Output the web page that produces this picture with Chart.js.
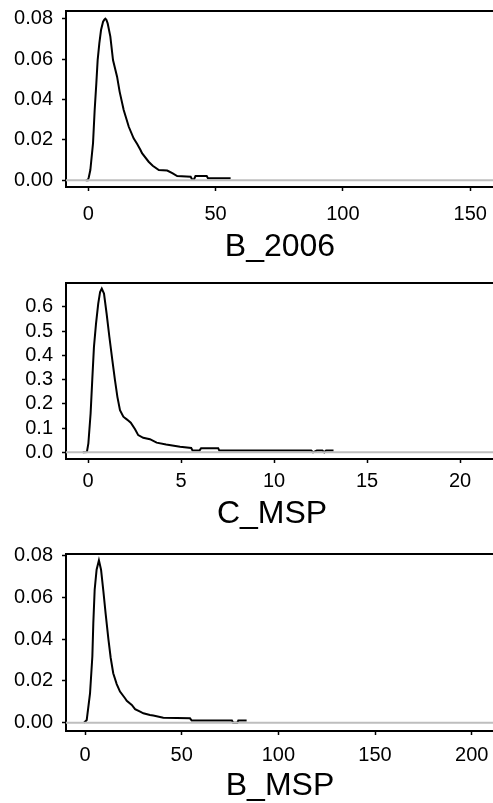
<!DOCTYPE html>
<html><head><meta charset="utf-8">
<script src="https://cdn.jsdelivr.net/npm/chart.js@4.4.1/dist/chart.umd.min.js"></script>
<style>
html,body{margin:0;padding:0;background:#fff;overflow:hidden;width:493px;height:803px;position:relative;}
canvas{position:absolute;left:0;}
</style></head><body>
<canvas id="c1" width="560" height="268" style="top:0px"></canvas>
<canvas id="c2" width="544" height="268" style="top:268px"></canvas>
<canvas id="c3" width="560" height="270" style="top:536px"></canvas>
<script>
// ---- Panel 1: B_2006 ----
const b2006Title = 'B_2006';
const b2006X = [-1.0,-0.2,0.2,0.8,1.85,2.5,3.15,3.67,4.33,5.0,5.8,6.3,6.7,7.1,7.6,8.66,9.7,11.3,12.3,13.9,15.9,17.8,19.2,20.5,21.1,23.7,25.3,27.7,31.0,33.0,34.9,40.2,40.8,41.5,42.1,46.5,47.0,55.9];
const b2006Y = [0,0,0.0015,0.0051,0.0183,0.0348,0.048,0.0595,0.0678,0.0744,0.0785,0.0795,0.080,0.0795,0.0777,0.0711,0.0595,0.0513,0.0439,0.0348,0.0265,0.0208,0.018,0.015,0.0134,0.0092,0.0072,0.0051,0.0048,0.0035,0.0021,0.0018,0.0004,0.0004,0.0021,0.0021,0.001,0.001];
const b2006XTicks = [0,50,100,150];
const b2006XLabels = ['0','50','100','150'];
const b2006YTicks = [0,0.02,0.04,0.06,0.08];
const b2006YLabels = ['0.00','0.02','0.04','0.06','0.08'];

// ---- Panel 2: C_MSP ----
const cmspTitle = 'C_MSP';
const cmspX = [-0.28,-0.06,0.02,0.14,0.23,0.32,0.43,0.55,0.65,0.74,0.86,1.0,1.15,1.31,1.45,1.58,1.72,1.9,2.1,2.3,2.53,2.7,2.97,3.33,3.69,4.2,4.95,5.55,5.62,6.0,6.08,7.0,7.06,12.0,12.1,12.3,12.6,12.7,12.8,13.2];
const cmspY = [0,0.001,0.037,0.16,0.30,0.435,0.53,0.614,0.662,0.676,0.655,0.573,0.476,0.38,0.298,0.229,0.174,0.147,0.135,0.122,0.095,0.071,0.06,0.054,0.04,0.032,0.023,0.018,0.008,0.008,0.017,0.017,0.007,0.007,0.0,0.007,0.007,0.0,0.007,0.007];
const cmspXTicks = [0,5,10,15,20];
const cmspXLabels = ['0','5','10','15','20'];
const cmspYTicks = [0,0.1,0.2,0.3,0.4,0.5,0.6];
const cmspYLabels = ['0.0','0.1','0.2','0.3','0.4','0.5','0.6'];

// ---- Panel 3: B_MSP ----
const bmspTitle = 'B_MSP';
const bmspX = [-0.5,0.9,2.6,3.8,4.3,5.0,6.0,7.2,8.3,9.5,10.7,12.1,13.3,14.6,16.4,18.1,20.7,21.6,24.2,25.9,28.5,30.2,33.6,35.3,40.5,54.3,55.2,76.0,76.6,78.8,79.3,83.6];
const bmspY = [0,0.0013,0.014,0.0317,0.0477,0.0637,0.0733,0.0778,0.0733,0.063,0.052,0.04,0.031,0.0237,0.0185,0.0149,0.0117,0.0105,0.0085,0.0065,0.0053,0.0045,0.0037,0.0034,0.0024,0.0021,0.001,0.001,0.0,0.0,0.001,0.001];
const bmspXTicks = [0,50,100,150,200];
const bmspXLabels = ['0','50','100','150','200'];
const bmspYTicks = [0,0.02,0.04,0.06,0.08];
const bmspYLabels = ['0.00','0.02','0.04','0.06','0.08'];

const FONT = "'Liberation Sans', Arial, Helvetica, sans-serif";

const topBorder = {
  id: 'topBorder',
  afterDraw(chart) {
    const {ctx, chartArea} = chart;
    ctx.save();
    ctx.strokeStyle = '#000';
    ctx.lineWidth = 2;
    ctx.beginPath();
    ctx.moveTo(chartArea.left - 1, chartArea.top);
    ctx.lineTo(chartArea.right, chartArea.top);
    ctx.stroke();
    ctx.restore();
  }
};

function makePanel(id, c) {
  const pts = c.xs.map((x, i) => ({x: x, y: c.ys[i]}));
  const zero = [{x: c.xMin, y: 0}, {x: c.xMax, y: 0}];
  new Chart(document.getElementById(id), {
    type: 'line',
    data: {datasets: [
      {data: zero, borderColor: '#bebebe', borderWidth: 2, pointRadius: 0, order: 0},
      {data: pts, borderColor: '#000', borderWidth: 2, pointRadius: 0, tension: 0, order: 1}
    ]},
    options: {
      responsive: false, animation: false, events: [],
      layout: {padding: {top: c.padTop, bottom: c.padBottom, left: 0, right: 0}},
      plugins: {
        legend: {display: false}, tooltip: {enabled: false},
        title: {display: true, text: c.title, position: 'bottom', color: '#000',
          font: {family: FONT, size: 32, weight: 'normal'}, padding: {top: c.titlePad, bottom: 0}}
      },
      scales: {
        x: {
          type: 'linear', min: c.xMin, max: c.xMax,
          afterBuildTicks: s => { s.ticks = c.xTicks.map(v => ({value: v})); },
          afterFit: s => { s.height = c.axisH; s.paddingLeft = 0; s.paddingRight = 0; },
          ticks: {callback: (v, i) => c.xLabels[i], color: '#000', font: {family: FONT, size: 20},
            padding: c.labelPad, maxRotation: 0, autoSkip: false},
          grid: {display: true, drawOnChartArea: false, drawTicks: true, tickLength: 4, tickColor: '#000', tickWidth: 1.5},
          border: {display: true, color: '#000', width: 2}
        },
        y: {
          type: 'linear', min: c.yMin, max: c.yMax,
          afterBuildTicks: s => { s.ticks = c.yTicks.map(v => ({value: v})); },
          afterFit: s => { s.width = 66; s.paddingTop = 0; s.paddingBottom = 0; },
          ticks: {callback: (v, i) => c.yLabels[i], color: '#000', font: {family: FONT, size: 20},
            padding: 9, autoSkip: false},
          grid: {display: true, drawOnChartArea: false, drawTicks: true, tickLength: 4, tickColor: '#000', tickWidth: 1.5},
          border: {display: true, color: '#000', width: 2}
        }
      }
    },
    plugins: [topBorder]
  });
}

makePanel('c1', {xs: b2006X, ys: b2006Y, xTicks: b2006XTicks, xLabels: b2006XLabels, yTicks: b2006YTicks, yLabels: b2006YLabels,
  xMin: -8.76, xMax: (560 - 88.3) / 2.546, yMin: -0.00332, yMax: 0.08381, title: b2006Title,
  padTop: 11, padBottom: 1.6, axisH: 40, labelPad: 11, titlePad: 1});
makePanel('c2', {xs: cmspX, ys: cmspY, xTicks: cmspXTicks, xLabels: cmspXLabels, yTicks: cmspYTicks, yLabels: cmspYLabels,
  xMin: -22 / 18.6, xMax: (544 - 88) / 18.6, yMin: -0.0276, yMax: 0.6989, title: cmspTitle,
  padTop: 15, padBottom: 2.6, axisH: 34, labelPad: 6, titlePad: 2});
makePanel('c3', {xs: bmspX, ys: bmspY, xTicks: bmspXTicks, xLabels: bmspXLabels, yTicks: bmspYTicks, yLabels: bmspYLabels,
  xMin: -19 / 1.9335, xMax: (560 - 85) / 1.9335, yMin: -0.00398, yMax: 0.08082, title: bmspTitle,
  padTop: 18, padBottom: 0.6, axisH: 35, labelPad: 8, titlePad: 1});
</script>
</body></html>
